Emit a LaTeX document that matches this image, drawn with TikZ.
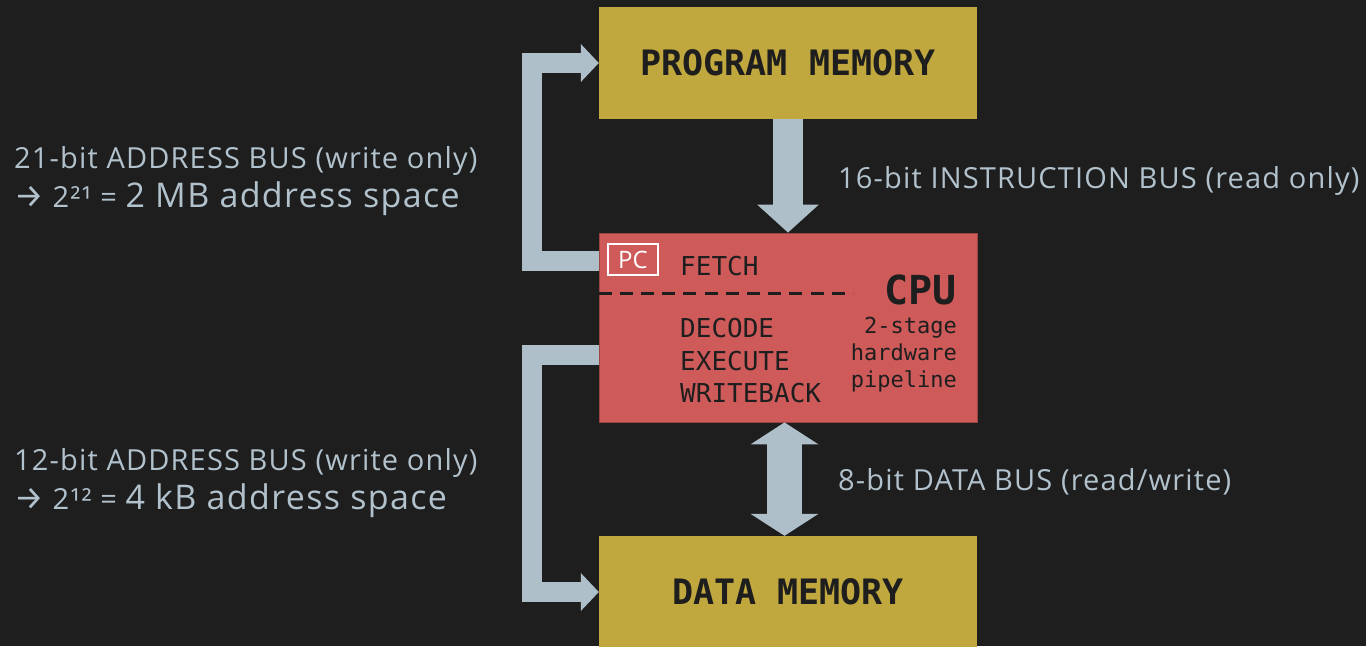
\documentclass[tikz,border=0pt]{standalone}
\usepackage{fontspec}
\usetikzlibrary{arrows.meta}
\newfontfamily\labelfont[LetterSpace=4]{Open Sans}
\newfontfamily\pcfont{Open Sans}
\newfontfamily\arrowfont{Fira Sans}
\newfontfamily\codefont{DejaVu Sans Mono}
\definecolor{bg}{RGB}{30,30,30}
\definecolor{memyellow}{RGB}{193,168,62}
\definecolor{cpured}{RGB}{207,90,90}
\definecolor{busgrey}{RGB}{174,191,202}
\definecolor{labelgrey}{RGB}{178,194,205}
\definecolor{ink}{RGB}{30,30,30}
\newcommand{\busarrow}{{\arrowfont\fontsize{33}{36}\selectfont →}}
\tikzset{
  membox/.style={fill=memyellow, minimum width=378pt, minimum height=112pt, inner sep=0pt,
    text=ink, font=\codefont\bfseries\fontsize{35}{40}\selectfont},
  cpubox/.style={fill=cpured, draw=cpured!75!black, line width=0.8pt,
    minimum width=378pt, minimum height=189pt, inner sep=0pt},
  stage/.style={anchor=base west, inner sep=0pt, text=ink, font=\codefont\fontsize{26}{30}\selectfont},
  note/.style={anchor=base east, inner sep=0pt, text=ink, font=\codefont\fontsize{22}{27}\selectfont},
  pcbox/.style={draw=white, line width=1.2pt, text=white, minimum width=50pt, minimum height=31pt,
    inner sep=0pt, font=\pcfont\fontsize{24}{26}\selectfont},
  lbl/.style={anchor=base west, inner sep=0pt, text=labelgrey, font=\labelfont\fontsize{29}{34}\selectfont},
  bus/.style={draw=busgrey, line join=miter},
}
\begin{document}
\begin{tikzpicture}[x=1pt,y=-1pt]
\useasboundingbox (0,0) rectangle (1366,646);
\fill[bg] (0,0) rectangle (1366,646);

% memories and processor
\node[membox] (pmem) at (788,63) {PROGRAM MEMORY};
\node[membox] (dmem) at (788,592) {DATA MEMORY};
\node[cpubox] (cpu) at (788,327.5) {};

% pipeline stages inside the CPU
\node[pcbox] (pc) at (633,259.5) {PC};
\node[stage] (fetch) at (680,275) {FETCH};
\draw[ink, line width=3pt, dash pattern=on 13pt off 8.2pt]
  (cpu.west |- 0,293) -- (853,293);
\node[stage] (decode) at (680,337) {DECODE};
\node[stage] (execute) at (680,370) {EXECUTE};
\node[stage] (writeback) at (680,402) {WRITEBACK};
\node[anchor=base east, inner sep=0pt, text=ink, font=\codefont\bfseries\fontsize{40}{44}\selectfont]
  (cpulabel) at (957,304) {CPU};
\node[note] (n1) at (957,333) {2-stage};
\node[note] (n2) at (957,360) {hardware};
\node[note] (n3) at (957,387) {pipeline};

% buses
\draw[bus, line width=19.5pt, -{Triangle[width=37pt,length=18pt]}]
  ([yshift=-28.5pt]cpu.north west) -- ++(-66.5,0) |- (pmem.west);
\draw[bus, line width=19.5pt, -{Triangle[width=37pt,length=18pt]}]
  ([yshift=-122.5pt]cpu.north west) -- ++(-66.5,0) |- (dmem.west);
\draw[bus, line width=30pt, -{Triangle[width=60pt,length=28pt]}]
  (pmem.south) -- (cpu.north);
\draw[bus, line width=35pt, {Triangle[width=67pt,length=22pt]}-{Triangle[width=67pt,length=22pt]}]
  ([xshift=-3.5pt]cpu.south) -- ([xshift=-3.5pt]dmem.north);

% bus labels
\node[lbl] (pa1) at (14,168) {21-bit ADDRESS BUS (write only)};
\node[lbl] (pa2) at (14,207) {\busarrow{} 2²¹ = {\fontsize{34}{40}\selectfont 2 MB address space}};
\node[lbl] (ib) at (838,188) {16-bit INSTRUCTION BUS (read only)};
\node[lbl] (db) at (838,490) {8-bit DATA BUS (read/write)};
\node[lbl] (da1) at (14,470) {12-bit ADDRESS BUS (write only)};
\node[lbl] (da2) at (14,509) {\busarrow{} 2¹² = {\fontsize{34}{40}\selectfont 4 kB address space}};
\end{tikzpicture}
\end{document}
